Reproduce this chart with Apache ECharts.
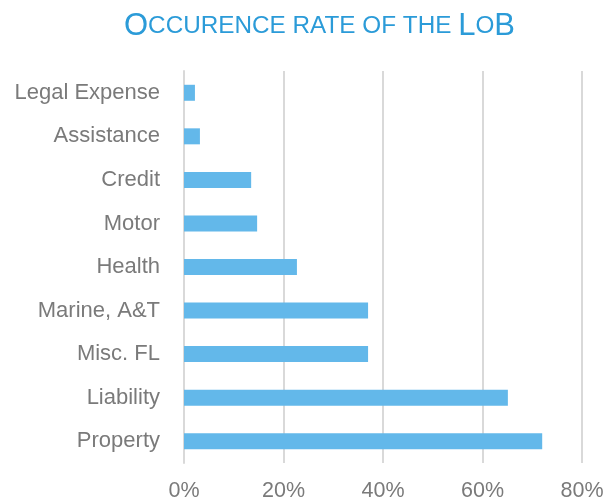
<!DOCTYPE html>
<html>
<head>
<meta charset="utf-8">
<script src="https://cdn.jsdelivr.net/npm/echarts@6/dist/echarts.min.js"></script>
<style>
  html, body { margin: 0; padding: 0; background: #fff; }
  #chart { width: 612px; height: 502px; }
</style>
</head>
<body>
<div id="chart"></div>
<script>
// data, bottom to top
var categories = ['Property', 'Liability', 'Misc. FL', 'Marine, A&T', 'Health', 'Motor', 'Credit', 'Assistance', 'Legal Expense'];
var rates = [0.72, 0.651, 0.37, 0.37, 0.227, 0.147, 0.135, 0.032, 0.022];
var xTicks = [0, 0.2, 0.4, 0.6, 0.8];

var chart = echarts.init(document.getElementById('chart'));
var font = '"Liberation Sans", Arial, sans-serif';
var option = {
    animation: false,
    title: {
        text: '{b|O}{s|CCURENCE RATE OF THE }{b|L}{s|O}{b|B}',
        left: 119,
        top: 6,
        textStyle: {
            rich: {
                b: { fontSize: 31, color: '#2b9bd8', fontFamily: font, fontWeight: 'normal' },
                s: { fontSize: 24.3, color: '#2b9bd8', fontFamily: font, fontWeight: 'normal' }
            }
        }
    },
    grid: { left: 184, right: 30, top: 71, bottom: 38, containLabel: false },
    xAxis: {
        type: 'value',
        min: xTicks[0],
        max: xTicks[xTicks.length - 1],
        interval: 0.2,
        axisLine: { show: false },
        axisTick: { show: false },
        splitLine: { show: true, lineStyle: { color: '#d9d9d9', width: 2 } },
        axisLabel: {
            color: '#7a7a7a',
            fontSize: 21.5,
            fontFamily: font,
            margin: 17,
            formatter: function (v) { return Math.round(v * 100) + '%'; }
        }
    },
    yAxis: {
        type: 'category',
        data: categories,
        axisLine: { show: true, lineStyle: { color: '#d9d9d9', width: 2 } },
        axisTick: { show: false },
        axisLabel: { color: '#7a7a7a', fontSize: 22, fontFamily: font, margin: 24, padding: [5, 0, 0, 0] }
    },
    series: [{
        type: 'bar',
        data: rates,
        barWidth: 16,
        itemStyle: { color: '#63b8ea' }
    }]
};
chart.setOption(option);
</script>
</body>
</html>
